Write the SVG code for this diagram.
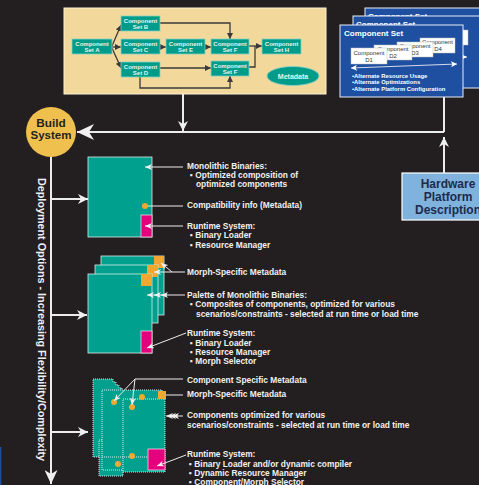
<svg xmlns="http://www.w3.org/2000/svg" width="479" height="485" viewBox="0 0 479 485">
<defs>
<style>
text{font-family:"Liberation Sans",Arial,sans-serif;font-weight:bold}
.lbl{font-size:8.4px;fill:#f0f0f0}
.cmp{font-size:6px;fill:#e6f4ee;text-anchor:middle}
.cbox{fill:#009c8b;stroke:#86d2c4;stroke-width:0.8}
.conn{fill:none;stroke:#3a3a3a;stroke-width:1.3}
.wl{fill:none;stroke:#ececec;stroke-width:2}
.cl{fill:none;stroke:#ececec;stroke-width:1}
.teal{fill:#00a08e;stroke:#d6eee8;stroke-width:0.8}
.dteal{fill:#00a08e;stroke:#eef8f5;stroke-width:0.9;stroke-dasharray:1 1}
.dl{fill:none;stroke:#eef8f5;stroke-width:0.9;stroke-dasharray:1 1}
.org{fill:#f0a830}
.mag{fill:#e5007e;stroke:#f6cfe3;stroke-width:0.8}
.bcard{fill:#1f4fa0;stroke:#e8eef8;stroke-width:1}
.dbox{fill:#ffffff;stroke:#bdbdbd;stroke-width:0.5}
.dtxt{font-size:6px;fill:#333333;font-weight:normal;text-anchor:middle}
.btxt{font-size:5.9px;fill:#ffffff}
.hw{font-size:12px;fill:#1c2b4e;text-anchor:middle}
</style>
<marker id="ad" markerWidth="6" markerHeight="6" refX="6" refY="3" orient="auto" markerUnits="userSpaceOnUse"><path d="M0,0 L6,3 L0,6 Z" fill="#3a3a3a"/></marker>
<marker id="aw" markerWidth="7" markerHeight="6" refX="7" refY="3" orient="auto" markerUnits="userSpaceOnUse"><path d="M0,0 L7,3 L0,6 L2,3 Z" fill="#f0f0f0"/></marker>
<marker id="aw2" markerWidth="6" markerHeight="6" refX="6" refY="3" orient="auto-start-reverse" markerUnits="userSpaceOnUse"><path d="M0,0 L6,3 L0,6 L1.5,3 Z" fill="#ffffff"/></marker>
<marker id="am" markerWidth="10" markerHeight="10" refX="10" refY="5" orient="auto" markerUnits="userSpaceOnUse"><path d="M0,0 L10,5 L0,10 L3,5 Z" fill="#f0f0f0"/></marker>
<marker id="al" markerWidth="14" markerHeight="13" refX="14" refY="6.5" orient="auto" markerUnits="userSpaceOnUse"><path d="M0,0 L14,6.5 L0,13 L4,6.5 Z" fill="#f0f0f0"/></marker>
<marker id="ab" markerWidth="17" markerHeight="16" refX="17" refY="8" orient="auto" markerUnits="userSpaceOnUse"><path d="M0,0 L17,8 L0,16 L5,8 Z" fill="#f0f0f0"/></marker>
</defs>
<rect width="479" height="485" fill="#231f20"/>
<rect x="0" y="447" width="1.3" height="38" fill="#1f4fa0"/>

<g id="component-graph">
<rect x="64" y="8" width="262" height="86" fill="#f3d89b" stroke="#fbf1d6" stroke-width="1"/>
<g id="connectors-graph">
<path class="conn" d="M112,46 L121,25" marker-end="url(#ad)"/>
<path class="conn" d="M112,47 H121" marker-end="url(#ad)"/>
<path class="conn" d="M112,48 L121,68" marker-end="url(#ad)"/>
<path class="conn" d="M160,23 H230 V39" marker-end="url(#ad)"/>
<path class="conn" d="M160,47 H166" marker-end="url(#ad)"/>
<path class="conn" d="M205,47 H211" marker-end="url(#ad)"/>
<path class="conn" d="M249,46 H262" marker-end="url(#ad)"/>
<path class="conn" d="M249,67 H255 V46"/>
<path class="conn" d="M160,68 H211" marker-end="url(#ad)"/>
<path class="conn" d="M140,77 V88 H230 V76" marker-end="url(#ad)"/>
</g>
<g id="set-a"><rect class="cbox" x="72" y="39" width="40" height="15"/><text class="cmp" x="92" y="45.5">Component</text><text class="cmp" x="92" y="52">Set A</text></g>
<g id="set-b"><rect class="cbox" x="121" y="16" width="39" height="15"/><text class="cmp" x="140.5" y="22.5">Component</text><text class="cmp" x="140.5" y="29">Set B</text></g>
<g id="set-c"><rect class="cbox" x="121" y="39" width="39" height="15"/><text class="cmp" x="140.5" y="45.5">Component</text><text class="cmp" x="140.5" y="52">Set C</text></g>
<g id="set-d"><rect class="cbox" x="121" y="62" width="39" height="15"/><text class="cmp" x="140.5" y="68.5">Component</text><text class="cmp" x="140.5" y="75">Set D</text></g>
<g id="set-e"><rect class="cbox" x="166" y="39" width="39" height="15"/><text class="cmp" x="185.5" y="45.5">Component</text><text class="cmp" x="185.5" y="52">Set E</text></g>
<g id="set-f1"><rect class="cbox" x="211" y="39" width="38" height="15"/><text class="cmp" x="230" y="45.5">Component</text><text class="cmp" x="230" y="52">Set F</text></g>
<g id="set-f2"><rect class="cbox" x="211" y="61" width="38" height="15"/><text class="cmp" x="230" y="67.5">Component</text><text class="cmp" x="230" y="74">Set F</text></g>
<g id="set-h"><rect class="cbox" x="262" y="39" width="39" height="15"/><text class="cmp" x="281.5" y="45.5">Component</text><text class="cmp" x="281.5" y="52">Set H</text></g>
<g id="metadata"><ellipse cx="293" cy="76" rx="26" ry="9.5" class="cbox"/><text class="cmp" x="293" y="78.5" style="font-size:7px">Metadata</text></g>
</g>

<g id="component-set-stack">
<g id="cs-back">
<rect class="bcard" x="365" y="8" width="130" height="72"/>
<text x="368" y="18.5" style="font-size:8px;fill:#fff">Component Set</text>
<rect class="dbox" x="468" y="21" width="14" height="14"/>
<path d="M380,48 H478" stroke="#fff" stroke-width="0.8" marker-end="url(#aw2)"/>
</g>
<g id="cs-mid">
<rect class="bcard" x="353" y="16" width="130" height="72"/>
<text x="356" y="27" style="font-size:8px;fill:#fff">Component Set</text>
<rect class="dbox" x="455" y="30" width="13" height="15"/>
<path d="M380,57 H467" stroke="#fff" stroke-width="0.8" marker-end="url(#aw2)"/>
</g>
<g id="cs-front">
<rect class="bcard" x="340" y="25" width="123" height="72"/>
<text x="344" y="36" style="font-size:8px;fill:#fff">Component Set</text>
<rect class="dbox" x="420" y="38" width="35" height="15"/><text class="dtxt" x="437.5" y="44">Component</text><text class="dtxt" x="438" y="51">D4</text>
<rect class="dbox" x="397" y="42" width="36" height="15"/><text class="dtxt" x="415" y="48">Component</text><text class="dtxt" x="415" y="55">D3</text>
<rect class="dbox" x="374" y="45" width="38" height="15"/><text class="dtxt" x="393" y="51">Component</text><text class="dtxt" x="393" y="58">D2</text>
<rect class="dbox" x="351" y="48" width="36" height="16"/><text class="dtxt" x="369" y="54.5">Component</text><text class="dtxt" x="369" y="62">D1</text>
<path d="M351,68 L457,64" stroke="#fff" stroke-width="0.8" marker-start="url(#aw2)" marker-end="url(#aw2)"/>
<text class="btxt" x="352" y="77.5">•Alternate Resource Usage</text>
<text class="btxt" x="352" y="84">•Alternate Optimizations</text>
<text class="btxt" x="352" y="90.5">•Alternate Platform Configuration</text>
</g>
</g>

<g id="build-system">
<circle cx="51" cy="132" r="25" fill="#f0c04f"/>
<text x="51" y="127" text-anchor="middle" style="font-size:11.8px;fill:#231f20">Build</text>
<text x="51" y="139" text-anchor="middle" style="font-size:11.5px;fill:#231f20">System</text>
</g>

<g id="hardware-platform">
<rect x="402" y="173" width="95" height="47" fill="#7fb2dc" stroke="#ffffff" stroke-width="1.2"/>
<text class="hw" x="448" y="188">Hardware</text>
<text class="hw" x="448" y="201">Platform</text>
<text class="hw" x="448" y="214">Description</text>
</g>

<g id="axis-label">
<text transform="translate(38,319.5) rotate(90)" text-anchor="middle" style="font-size:10.8px;fill:#f0f0f0">Deployment Options - Increasing Flexibility/Complexity</text>
</g>

<g id="stage1">
<rect class="teal" x="88" y="157" width="64" height="80"/>
<circle class="org" cx="145" cy="206" r="3"/>
<rect class="mag" x="141" y="215" width="11" height="22"/>
</g>

<g id="stage2">
<rect class="teal" x="101" y="256" width="63" height="59"/>
<rect class="org" x="154" y="256" width="10" height="12"/>
<rect class="teal" x="95" y="265" width="63" height="58"/>
<rect class="org" x="147" y="265" width="11" height="12"/>
<rect class="teal" x="88" y="274" width="64" height="79"/>
<rect class="org" x="141" y="274" width="11" height="12"/>
<rect class="mag" x="141" y="331" width="11" height="22"/>
</g>

<g id="stage3">
<path class="dteal" d="M93,379 H113 V382 H116 V385 H119 V388 H122 V457 H93 Z"/>
<rect class="dteal" x="99" y="440" width="24" height="36"/>
<rect class="dteal" x="102" y="390" width="60" height="80"/>
<rect class="dteal" x="123" y="399" width="42" height="73"/>
<path class="dl" d="M102,457 H148"/>
<circle class="org" cx="114" cy="402" r="3"/>
<circle class="org" cx="132" cy="407" r="3"/>
<circle class="org" cx="142" cy="397" r="3"/>
<circle class="org" cx="132" cy="456" r="3"/>
<circle class="org" cx="118" cy="464" r="3"/>
<rect class="org" x="158" y="391" width="8" height="8"/>
<rect class="mag" x="148" y="449" width="17" height="21"/>
</g>

<g id="connectors">
<path class="wl" d="M183,94 V131" marker-end="url(#am)"/>
<path class="wl" d="M444,132 H77" marker-end="url(#ab)"/>
<path class="wl" d="M444,97 V132"/>
<path class="wl" d="M444,173 V137" marker-end="url(#am)"/>
<path class="wl" d="M51,157 V484" marker-end="url(#al)"/>
<path class="wl" d="M52,199 H88" marker-end="url(#am)"/>
<path class="wl" d="M52,315 H87" marker-end="url(#am)"/>
<path class="wl" d="M52,432 H88" marker-end="url(#am)"/>

<path class="cl" d="M183,167 H145" marker-end="url(#aw)"/>
<path class="cl" d="M183,206 H148"/>
<path class="cl" d="M183,226 H145" marker-end="url(#aw)"/>

<path class="cl" d="M185,272 H172"/>
<path class="cl" d="M172,272 L161,263" marker-end="url(#aw)"/>
<path class="cl" d="M172,272 L154,272" marker-end="url(#aw)"/>
<path class="cl" d="M185,295 H147" marker-end="url(#aw)"/>
<path class="cl" d="M160,295 H154" marker-end="url(#aw)"/>
<path class="cl" d="M167,295 H161" marker-end="url(#aw)"/>
<path class="cl" d="M186,333 L147,348" marker-end="url(#aw)"/>

<path class="cl" d="M183,379 H135"/>
<path class="cl" d="M135,379 L114,401" marker-end="url(#aw)"/>
<path class="cl" d="M135,379 L132,405" marker-end="url(#aw)"/>
<path class="cl" d="M183,395 H166"/>
<path class="cl" d="M183,416 H166" marker-end="url(#aw)"/>
<path class="cl" d="M175,416 H169" marker-end="url(#aw)"/>
<path class="cl" d="M178,416 H172" marker-end="url(#aw)"/>
<path class="cl" d="M186,455 L157,466" marker-end="url(#aw)"/>
</g>

<g id="labels">
<text class="lbl" x="187" y="169">Monolithic Binaries:</text>
<text class="lbl" x="190" y="178">▪ Optimized composition of</text>
<text class="lbl" x="196" y="187">optimized components</text>
<text class="lbl" x="187" y="208">Compatibility info (Metadata)</text>
<text class="lbl" x="187" y="229">Runtime System:</text>
<text class="lbl" x="190" y="238">▪ Binary Loader</text>
<text class="lbl" x="190" y="248">▪ Resource Manager</text>

<text class="lbl" x="187" y="275">Morph-Specific Metadata</text>
<text class="lbl" x="187" y="298">Palette of Monolithic Binaries:</text>
<text class="lbl" x="190" y="307">▪ Composites of components, optimized for various</text>
<text class="lbl" x="196" y="316.5">scenarios/constraints - selected at run time or load time</text>
<text class="lbl" x="187" y="336">Runtime System:</text>
<text class="lbl" x="190" y="346">▪ Binary Loader</text>
<text class="lbl" x="190" y="355">▪ Resource Manager</text>
<text class="lbl" x="190" y="364">▪ Morph Selector</text>

<text class="lbl" x="187" y="383">Component Specific Metadata</text>
<text class="lbl" x="187" y="397">Morph-Specific Metadata</text>
<text class="lbl" x="187" y="418">Components optimized for various</text>
<text class="lbl" x="187" y="427.5">scenarios/constraints - selected at run time or load time</text>
<text class="lbl" x="187" y="457">Runtime System:</text>
<text class="lbl" x="189" y="466.5">▪ Binary Loader and/or dynamic compiler</text>
<text class="lbl" x="189" y="475.5">▪ Dynamic Resource Manager</text>
<text class="lbl" x="189" y="484.5">▪ Component/Morph Selector</text>
</g>
</svg>
